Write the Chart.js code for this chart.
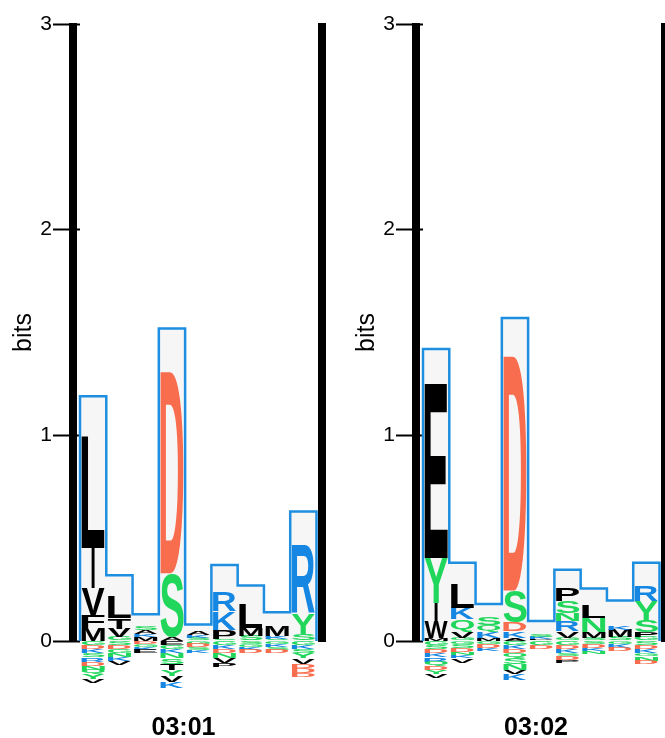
<!DOCTYPE html>
<html>
<head>
<meta charset="utf-8">
<script src="https://cdn.jsdelivr.net/npm/chart.js@4.4.1/dist/chart.umd.min.js"></script>
<style>
  html, body { margin: 0; padding: 0; background: #fff; overflow: hidden; }
  body { width: 665px; height: 738px; position: relative; }
  .panel { position: absolute; top: 0; }
  #panel1 { left: 0; }
  #panel2 { left: 343px; }
</style>
</head>
<body>
<div class="panel" id="panel1"><canvas id="logo1" width="367" height="738"></canvas></div>
<div class="panel" id="panel2"><canvas id="logo2" width="386" height="738"></canvas></div>
<script>
const positions = ["1", "2", "3", "4", "5", "6", "7", "8", "9"];

// 03:01 -- letters listed bottom -> top above zero, top -> bottom below zero
const p1Box = [1.19, 0.32, 0.13, 1.52, 0.08, 0.37, 0.27, 0.14, 0.63];
const p1Up = ["MFVIL", "GVTL", "MKAS", "ASD", "SKA", "SPKR", "SML", "SKM", "SYR"];
const p1UpBits = [
  [0.063, 0.065, 0.13, 0.195, 0.54],
  [0.02, 0.04, 0.05, 0.105],
  [0.02, 0.015, 0.02, 0.02],
  [0.02, 0.31, 0.98],
  [0.015, 0.015, 0.02],
  [0.01, 0.045, 0.09, 0.095],
  [0.025, 0.04, 0.12],
  [0.01, 0.015, 0.05],
  [0.035, 0.1, 0.33],
];
const p1Down = ["GDKSRDNQYV", "SDGNKV", "DGKE", "EGKNSTYVK", "GDSK", "GKDNVP", "SGKD", "GKSD", "GKSYVDDD"];
const p1DownBits = [
  [0.02, 0.02, 0.02, 0.02, 0.02, 0.02, 0.02, 0.02, 0.025, 0.02],
  [0.02, 0.02, 0.02, 0.02, 0.017, 0.02],
  [0.015, 0.015, 0.015, 0.015],
  [0.02, 0.02, 0.02, 0.025, 0.025, 0.03, 0.03, 0.03, 0.03],
  [0.015, 0.015, 0.015, 0.015],
  [0.02, 0.02, 0.02, 0.025, 0.022, 0.02],
  [0.015, 0.015, 0.015, 0.015],
  [0.015, 0.015, 0.015, 0.015],
  [0.02, 0.02, 0.02, 0.025, 0.025, 0.02, 0.025, 0.02],
];

// 03:02
const p2Box = [1.42, 0.38, 0.18, 1.57, 0.097, 0.347, 0.255, 0.197, 0.38];
const p2Up = ["MWIYE", "GVQKL", "MKQS", "AKDSD", "PKS", "GVRNSP", "SMNL", "SMK", "GPSYR"];
const p2UpBits = [
  [0.016, 0.081, 0.089, 0.218, 0.85],
  [0.016, 0.032, 0.057, 0.056, 0.116],
  [0.016, 0.03, 0.03, 0.04],
  [0.016, 0.033, 0.04, 0.156, 1.14],
  [0.01, 0.01, 0.01],
  [0.016, 0.032, 0.049, 0.04, 0.057, 0.061],
  [0.016, 0.03, 0.067, 0.064],
  [0.02, 0.035, 0.02],
  [0.02, 0.022, 0.055, 0.097, 0.072],
];
const p2Down = ["GSDKRQDYV", "GSDNKV", "GDK", "GKDQSNVK", "GD", "GDKSDP", "SDKN", "GKD", "SDKGND"];
const p2DownBits = [
  [0.02, 0.02, 0.02, 0.02, 0.02, 0.02, 0.02, 0.02, 0.02],
  [0.015, 0.02, 0.02, 0.015, 0.015, 0.02],
  [0.015, 0.02, 0.015],
  [0.02, 0.02, 0.02, 0.02, 0.03, 0.03, 0.02, 0.03],
  [0.02, 0.02],
  [0.02, 0.02, 0.02, 0.015, 0.015, 0.015],
  [0.015, 0.02, 0.015, 0.015],
  [0.015, 0.02, 0.015],
  [0.02, 0.02, 0.02, 0.015, 0.02, 0.015],
];

const RED = "#f96d4f";
const GREEN = "#20d75c";
const BLUE = "#1587e3";
const letterColors = {
  D: RED,
  S: GREEN, Y: GREEN, G: GREEN, N: GREEN, Q: GREEN, C: GREEN,
  K: BLUE, R: BLUE, H: BLUE,
};
// letters that keep their narrow shape instead of filling the column
const narrowLetters = { I: 0.14 };
const fontFamily = '"Liberation Sans", Arial, Helvetica, sans-serif';

function drawGlyph(ctx, ch, left, top, w, h, color) {
  const f = narrowLetters[ch];
  if (f) {
    left += (w - w * f) / 2;
    w *= f;
  }
  ctx.save();
  ctx.font = "bold 100px " + fontFamily;
  ctx.textAlign = "left";
  ctx.textBaseline = "alphabetic";
  const m = ctx.measureText(ch);
  const gw = m.actualBoundingBoxLeft + m.actualBoundingBoxRight;
  const gh = m.actualBoundingBoxAscent + m.actualBoundingBoxDescent;
  ctx.translate(left, top);
  ctx.scale(w / gw, h / gh);
  ctx.fillStyle = color;
  ctx.fillText(ch, m.actualBoundingBoxLeft, m.actualBoundingBoxAscent);
  ctx.restore();
}

// draws each letter stretched into its (invisible) stacked bar
const letterPlugin = {
  id: "letters",
  afterDatasetsDraw(chart) {
    const ctx = chart.ctx;
    chart.data.datasets.forEach((ds, di) => {
      if (!ds.letters) return;
      chart.getDatasetMeta(di).data.forEach((bar, i) => {
        const ch = ds.letters[i];
        if (!ch) return;
        const { x, y, base, width } = bar.getProps(["x", "y", "base", "width"], true);
        const h = Math.abs(base - y);
        if (h < 0.4) return;
        drawGlyph(ctx, ch, x - width / 2 + 1.5, Math.min(y, base), width - 3, h, letterColors[ch] || "#000");
      });
    });
  },
};

// thick black frame bars on both sides of the plot
const framePlugin = {
  id: "frame",
  afterDatasetsDraw(chart) {
    const { ctx, chartArea, scales } = chart;
    const y = scales.y;
    const top = y.getPixelForValue(y.max) - 1;
    const bottom = y.getPixelForValue(0) + 1;
    ctx.save();
    ctx.fillStyle = "#000";
    ctx.fillRect(chartArea.left - 11, top, 8, bottom - top);
    ctx.fillRect(chartArea.right + 1.5, top, 8, bottom - top);
    ctx.restore();
  },
};

function letterDataset(values, letters) {
  return {
    type: "bar",
    data: values,
    letters: letters,
    xAxisID: "x",
    stack: "letters",
    grouped: false,
    order: 1,
    backgroundColor: "rgba(0,0,0,0)",
    barPercentage: 1,
    categoryPercentage: 1,
    clip: false,
  };
}

function makeLogo(canvasId, title, box, up, upBits, down, downBits, rightSpace) {
  const datasets = [];

  // step outline (and light fill) of the information boxes
  const outline = [{ x: 0.5, y: 0 }];
  box.forEach((h, i) => outline.push({ x: i + 0.5, y: h }, { x: i + 1.5, y: h }));
  outline.push({ x: box.length + 0.5, y: 0 });
  datasets.push({
    type: "line",
    data: outline,
    xAxisID: "xl",
    stack: "outline",
    order: 2,
    borderColor: "#1e8ee0",
    backgroundColor: "#f6f6f6",
    borderWidth: 2.5,
    pointRadius: 0,
    tension: 0,
    fill: "origin",
    clip: false,
  });

  const nUp = Math.max(...up.map((s) => s.length));
  for (let r = 0; r < nUp; r++) {
    datasets.push(letterDataset(upBits.map((b) => b[r] || 0), up.map((s) => s[r] || "")));
  }
  const nDown = Math.max(...down.map((s) => s.length));
  for (let r = 0; r < nDown; r++) {
    datasets.push(letterDataset(downBits.map((b) => -(b[r] || 0)), down.map((s) => s[r] || "")));
  }

  return new Chart(document.getElementById(canvasId), {
    type: "bar",
    data: { labels: positions, datasets: datasets },
    options: {
      responsive: false,
      animation: false,
      layout: { padding: { top: 24, left: 0, right: 0, bottom: 0 } },
      plugins: {
        legend: { display: false },
        tooltip: { enabled: false },
        title: {
          display: true,
          text: title,
          position: "bottom",
          color: "#000",
          font: { family: fontFamily, size: 25, weight: "bold", lineHeight: 0.8 },
          padding: { top: 77, bottom: 0 },
        },
      },
      scales: {
        x: { type: "category", offset: true, display: false, stacked: true },
        xl: { type: "linear", min: 0.5, max: box.length + 0.5, offset: false, display: false },
        y: {
          type: "linear",
          position: "left",
          min: 0,
          max: 3,
          stacked: true,
          ticks: { stepSize: 1, color: "#000", padding: 1, font: { family: fontFamily, size: 21 } },
          grid: { drawOnChartArea: false, tickLength: 27, tickWidth: 2, tickColor: "#000" },
          border: { display: false },
          title: {
            display: true,
            text: "bits",
            color: "#000",
            font: { family: fontFamily, size: 25 },
            padding: { top: 9, bottom: 0 },
          },
          afterFit(scale) { scale.width = 80; },
        },
        yr: {
          type: "linear",
          position: "right",
          grid: { display: false },
          border: { display: false },
          ticks: { display: false },
          afterFit(scale) { scale.width = rightSpace; },
        },
      },
    },
    plugins: [letterPlugin, framePlugin],
  });
}

makeLogo("logo1", "03:01", p1Box, p1Up, p1UpBits, p1Down, p1DownBits, 50.5);
makeLogo("logo2", "03:02", p2Box, p2Up, p2UpBits, p2Down, p2DownBits, 69.5);
</script>
</body>
</html>
